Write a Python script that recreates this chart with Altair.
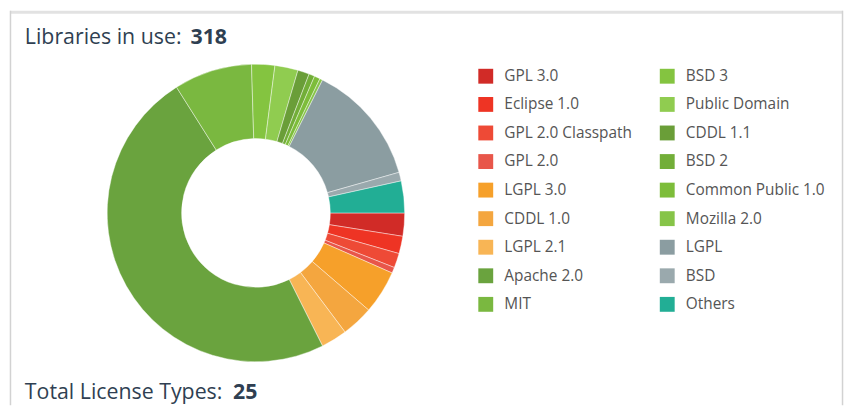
import altair as alt
import pandas as pd
import math

# ---- data ----
licenses = [
    "GPL 3.0", "Eclipse 1.0", "GPL 2.0 Classpath", "GPL 2.0", "LGPL 3.0",
    "CDDL 1.0", "LGPL 2.1", "Apache 2.0", "MIT", "BSD 3", "Public Domain",
    "CDDL 1.1", "BSD 2", "Common Public 1.0", "Mozilla 2.0", "LGPL", "BSD", "Others",
]
counts = [8, 6, 5, 2, 15, 11, 9, 154, 27, 8, 8, 4, 2, 2, 1, 42, 3, 11]
colors = [
    "#d12b27", "#ee3424", "#ee4a36", "#e8564a", "#f6a02a", "#f4a63f", "#f8b555",
    "#6aa33e", "#7ab840", "#84c440", "#90cc50", "#6a9e38", "#72ae38", "#7dbd3a",
    "#86c448", "#8b9da1", "#9aa9ad", "#22ae95",
]
libraries_in_use = 318
license_types = 25

df = pd.DataFrame({"license": licenses, "count": counts, "idx": list(range(len(licenses)))})

W, H = 843, 398
CX, CY = 250, 204

donut = alt.Chart(df).mark_arc(
    innerRadius=75, outerRadius=150, stroke="#ffffff", strokeWidth=0.6, strokeOpacity=0.7
).encode(
    theta=alt.Theta("count:Q", stack=True, scale=alt.Scale(range=[math.pi / 2, math.pi / 2 + 2 * math.pi])),
    order=alt.Order("idx:Q", sort="ascending"),
    color=alt.Color(
        "license:N",
        scale=alt.Scale(domain=licenses, range=colors),
        legend=alt.Legend(
            orient="none", legendX=474, legendY=58, columns=2, title=None,
            symbolType="square", symbolSize=225, symbolStrokeWidth=0, symbolOpacity=1,
            labelFontSize=15.5, labelFont="Open Sans", labelColor="#555555",
            rowPadding=11.8, columnPadding=27, labelOffset=11, labelLimit=300,
        ),
    ),
    x=alt.value(CX),
    y=alt.value(CY),
)

title_df = pd.DataFrame({"t": ["Libraries in use:"], "v": [str(libraries_in_use)]})
foot_df = pd.DataFrame({"t": ["Total License Types:"], "v": [str(license_types)]})

FONT = "Open Sans"
TCOL = "#2f3f52"
FS = 21.5
t1 = alt.Chart(title_df).mark_text(align="left", baseline="alphabetic", font=FONT, fontSize=FS, color=TCOL).encode(
    text="t:N", x=alt.value(17), y=alt.value(34))
t2 = alt.Chart(title_df).mark_text(align="left", baseline="alphabetic", font=FONT, fontSize=FS, fontWeight="bold", color=TCOL).encode(
    text="v:N", x=alt.value(184), y=alt.value(34))
f1 = alt.Chart(foot_df).mark_text(align="left", baseline="alphabetic", font=FONT, fontSize=FS, color=TCOL).encode(
    text="t:N", x=alt.value(17), y=alt.value(392))
f2 = alt.Chart(foot_df).mark_text(align="left", baseline="alphabetic", font=FONT, fontSize=FS, fontWeight="bold", color=TCOL).encode(
    text="v:N", x=alt.value(227), y=alt.value(392))

# card border
top_line = alt.Chart(title_df).mark_rule(color="#e2e2e2", strokeWidth=3).encode(
    x=alt.value(2), x2=alt.value(842), y=alt.value(1.5))
left_line = alt.Chart(title_df).mark_rule(color="#d2d2d2", strokeWidth=1.5).encode(
    x=alt.value(2.5), y=alt.value(0), y2=alt.value(H))
right_line = alt.Chart(title_df).mark_rule(color="#d2d2d2", strokeWidth=1.5).encode(
    x=alt.value(841.5), y=alt.value(0), y2=alt.value(H))

chart = alt.layer(top_line, left_line, right_line, donut, t1, t2, f1, f2).properties(
    width=W, height=H, padding=0, background="#ffffff"
).configure_view(stroke=None)

chart.save("out.html", embed_options={"renderer": "svg", "actions": False})
